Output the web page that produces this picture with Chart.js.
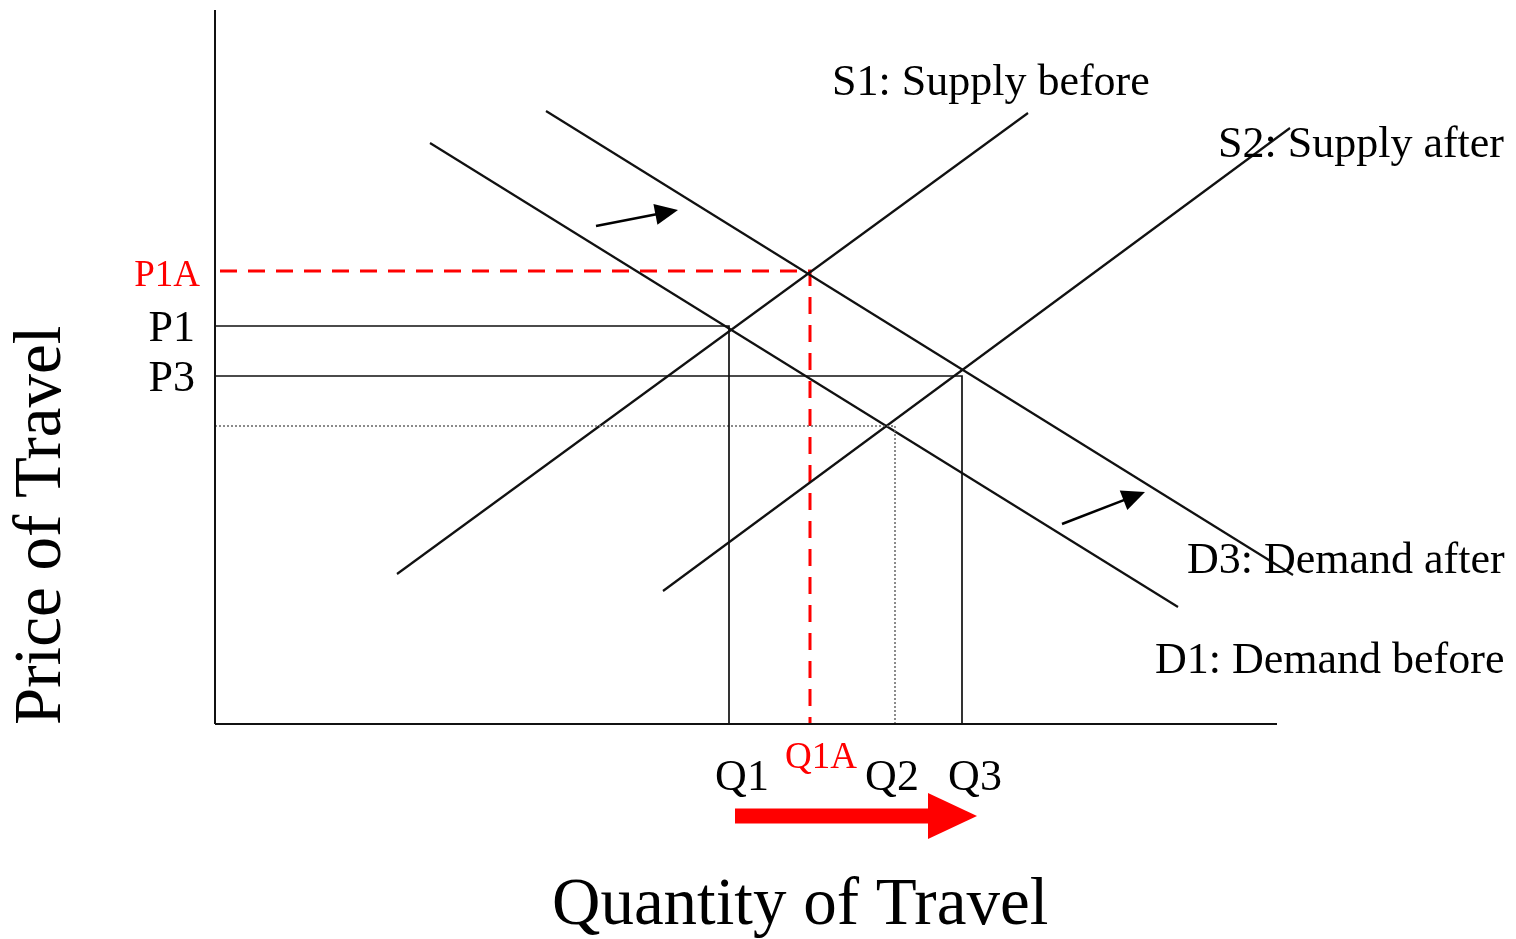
<!DOCTYPE html>
<html><head><meta charset="utf-8">
<script src="https://cdn.jsdelivr.net/npm/chart.js@4"></script>
<style>html,body{margin:0;padding:0;background:#fff}#wrap{width:1516px;height:939px;position:relative}</style>
</head><body><div id="wrap"><canvas id="c"></canvas></div>
<script>
// ---- Data (x: quantity units, y: price units) ----
const axisX = [[0,0],[106.2,0]];
const axisY = [[0,0],[0,71.4]];
const supplyBefore = [[18.2,15.0],[81.3,61.1]];
const supplyAfter  = [[44.8,13.3],[107.5,59.6]];
const demandBefore = [[21.5,58.1],[96.3,11.7]];
const demandAfter  = [[33.1,61.3],[107.8,14.9]];
const priceLabels = ['P1A','P1','P3'];
const priceValues = [45.3,39.8,34.8];
const quantityLabels = ['Q1','Q1A','Q2','Q3'];
const quantityValues = [51.4,59.5,68.0,74.7];
const q2Price = 29.8;
const shiftArrows = [[[38.1,49.8],[46.3,51.4]],[[84.7,20.0],[93.0,23.2]]];
const quantityShift = [[52.0,-9.2],[76.2,-9.2]];
const curveNames = ['S1: Supply before','S2: Supply after','D3: Demand after','D1: Demand before'];
const curveNameAt = [[61.7,62.9],[100.3,56.7],[97.2,15.1],[94.0,5.1]];
const xTitle = 'Quantity of Travel';
const yTitle = 'Price of Travel';

const pts = a => a.map(p => ({x:p[0], y:p[1]}));
const P = i => priceValues[i], Q = i => quantityValues[i];
function ds(a, color, width, dash){
  return {data: pts(a), showLine:true, borderColor:color, borderWidth:width, borderDash:dash||[], pointRadius:0, fill:false, clip:false, tension:0};
}
const datasets = [
  ds(axisY,'#111',2), ds(axisX,'#111',2),
  ds([[0,P(1)],[Q(0),P(1)],[Q(0),0]],'#111',1.7),
  ds([[0,P(2)],[Q(3),P(2)],[Q(3),0]],'#111',1.7),
  ds([[0,q2Price],[Q(2),q2Price],[Q(2),0]],'#666',1.5,[2,2]),
  ds(supplyBefore,'#111',2.2), ds(supplyAfter,'#111',2.2),
  ds(demandBefore,'#111',2.2), ds(demandAfter,'#111',2.2),
  ds([[0.5,P(0)],[Q(1),P(0)],[Q(1),0]],'#ff0000',3,[17,11]),
];

function arrow(ctx,x1,y1,x2,y2,hl,hw,sw,color){
  const dx=x2-x1, dy=y2-y1, L=Math.hypot(dx,dy), ux=dx/L, uy=dy/L;
  const bx=x2-ux*hl, by=y2-uy*hl;
  ctx.save();
  ctx.strokeStyle=color; ctx.fillStyle=color; ctx.lineWidth=sw; ctx.lineCap='butt';
  ctx.beginPath(); ctx.moveTo(x1,y1); ctx.lineTo(bx+ux*1,by+uy*1); ctx.stroke();
  ctx.beginPath(); ctx.moveTo(x2,y2);
  ctx.lineTo(bx-uy*hw/2,by+ux*hw/2); ctx.lineTo(bx+uy*hw/2,by-ux*hw/2); ctx.closePath(); ctx.fill();
  ctx.restore();
}

const overlay = {
  id:'overlay',
  afterDatasetsDraw(chart){
    const ctx=chart.ctx, xs=chart.scales.x, ys=chart.scales.y;
    const px=v=>xs.getPixelForValue(v), py=v=>ys.getPixelForValue(v);
    shiftArrows.forEach(a=>arrow(ctx,px(a[0][0]),py(a[0][1]),px(a[1][0]),py(a[1][1]),23,21,2.5,'#000'));
    arrow(ctx,px(quantityShift[0][0]),py(quantityShift[0][1]),px(quantityShift[1][0]),py(quantityShift[1][1]),49,46,15,'#ff0000');
    ctx.save();
    ctx.textBaseline='alphabetic';
    // curve names
    ctx.fillStyle='#000'; ctx.font='44px "Liberation Serif", "Times New Roman", serif'; ctx.textAlign='left';
    curveNames.forEach((t,i)=>ctx.fillText(t,px(curveNameAt[i][0]),py(curveNameAt[i][1])));
    // price labels
    ctx.textAlign='right';
    priceLabels.forEach((t,i)=>{
      const red=i===0;
      ctx.fillStyle=red?'#ff0000':'#000';
      ctx.font=(red?'37px':'44px')+' "Liberation Serif", serif';
      ctx.fillText(t,px(0)-(red?15:20),py(priceValues[i])+15);
    });
    // quantity labels
    ctx.textAlign='center';
    const qOff=[13,11,-3,13];
    quantityLabels.forEach((t,i)=>{
      const red=i===1;
      ctx.fillStyle=red?'#ff0000':'#000';
      ctx.font=(red?'37px':'44px')+' "Liberation Serif", serif';
      ctx.fillText(t,px(quantityValues[i])+qOff[i],py(0)+(red?44:66));
    });
    // axis titles
    ctx.fillStyle='#000'; ctx.font='67px "Liberation Serif", serif'; ctx.textAlign='left';
    ctx.fillText(xTitle,px(33.7),py(-20.0));
    ctx.translate(px(-15.5),py(-0.1)); ctx.rotate(-Math.PI/2);
    ctx.fillText(yTitle,0,0);
    ctx.restore();
  }
};

new Chart(document.getElementById('c'),{
  type:'scatter',
  data:{datasets},
  options:{
    responsive:true, maintainAspectRatio:false, animation:false,
    layout:{padding:0},
    plugins:{legend:{display:false},tooltip:{enabled:false}},
    scales:{
      x:{type:'linear',display:false,min:-21.5,max:130.1},
      y:{type:'linear',display:false,min:-21.5,max:72.4}
    }
  },
  plugins:[overlay]
});
</script></body></html>
